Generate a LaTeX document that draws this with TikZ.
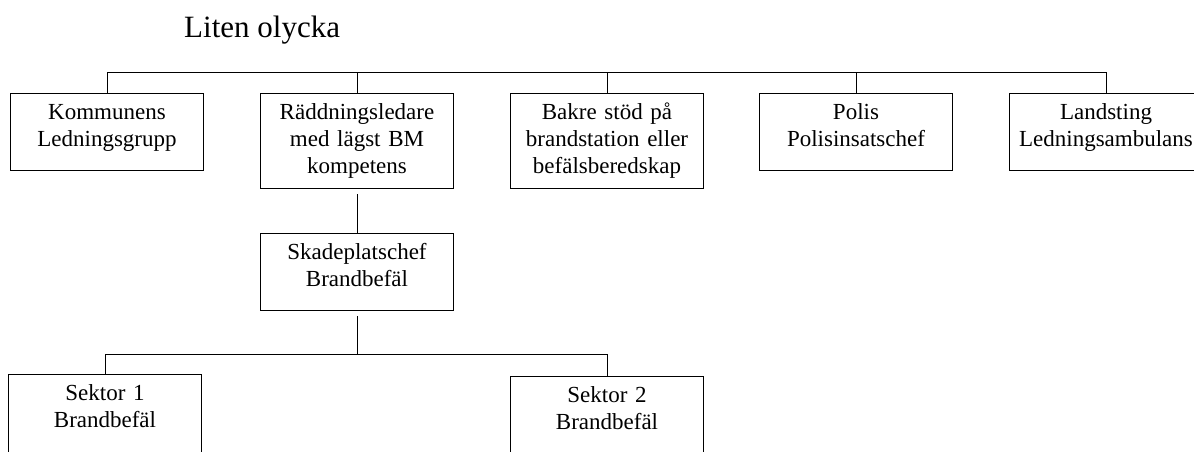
\documentclass[tikz,border=0pt]{standalone}
\usepackage{fontspec}
\setmainfont{Liberation Serif}
\tikzset{
    unit/.style={draw, line width=1.3pt, anchor=north, align=center, inner sep=0pt,
        text width=193pt, text height=26.3pt, font=\fontsize{23}{26.7}\selectfont},
    twoline/.style={unit, text depth=50.7pt},
    threeline/.style={unit, text depth=68.7pt},
    openline/.style={unit, text depth=100pt},
    link/.style={line width=1pt}
}
\begin{document}
\begin{tikzpicture}[x=1pt,y=-1pt]
        \useasboundingbox (0,0) rectangle (1194,451);
        \clip (0,0) rectangle (1194,451);
        \node[anchor=base west, inner sep=0pt, font=\fontsize{31}{36}\selectfont] (title) at (184,37.5) {Liten olycka};
        % top row
        \node[twoline] (kom) at (107,93) {Kommunens\\Ledningsgrupp};
        \node[threeline] (rl) at (357,93) {Räddningsledare\\med lägst BM\\kompetens};
        \node[threeline] (bak) at (607,93) {Bakre stöd på\\brandstation eller\\befälsberedskap};
        \node[twoline] (pol) at (856,93) {Polis\\Polisinsatschef};
        \node[twoline] (land) at (1106,93) {Landsting\\Ledningsambulans};
        \coordinate (top) at (0,72);
        \draw[link] (kom.north |- top) -- (land.north |- top);
        \foreach \n in {kom,rl,bak,pol,land} {
            \draw[link] (\n.north) -- (\n.north |- top);
        }
        % skadeplats
        \node[twoline] (skp) at (357,233) {Skadeplatschef\\Brandbefäl};
        \draw[link, shorten <=5pt] (rl.south) -- (skp.north);
        % sektorer
        \node[openline] (s1) at (105,374) {Sektor 1\\Brandbefäl};
        \node[openline] (s2) at (607,376) {Sektor 2\\Brandbefäl};
        \coordinate (mid) at (0,354);
        \draw[link, shorten <=5pt] (skp.south) -- (skp.south |- mid);
        \draw[link] (s1.north |- mid) -- (s2.north |- mid);
        \foreach \n in {s1,s2} {
            \draw[link] (\n.north) -- (\n.north |- mid);
        }
    \end{tikzpicture}
\end{document}
